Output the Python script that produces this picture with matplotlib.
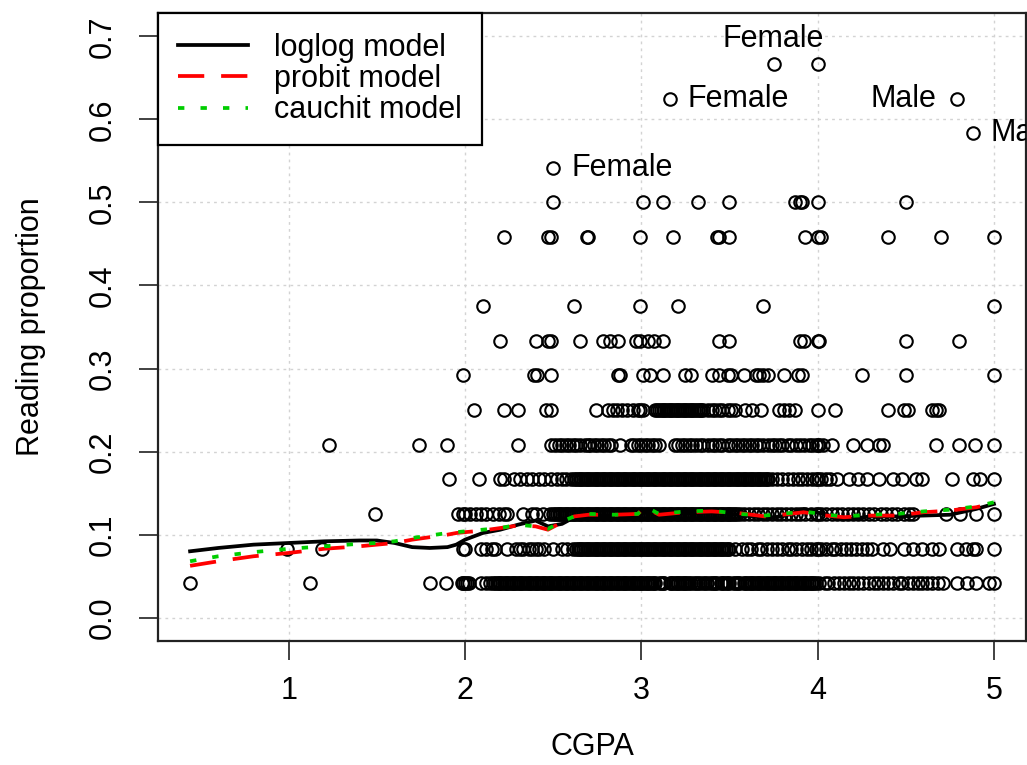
import numpy as np
import matplotlib.pyplot as plt

plt.rcParams['font.family'] = ['Liberation Sans', 'DejaVu Sans']

# reading proportion levels (k/24) and CGPA values (x100) of the students at each level
prop_levels = [0.0417, 0.0833, 0.1250, 0.1667, 0.2083, 0.2500, 0.2917, 0.3333,
               0.3750, 0.4583, 0.5000, 0.5417, 0.5833, 0.6250, 0.6667]

cgpa_01 = [44, 112, 180, 189, 198, 199, 200, 201, 202, 209, 212, 214, 216, 217, 218, 219,
           220, 221, 222, 223, 224, 225, 226, 227, 228, 229, 230, 231, 232, 233, 234, 235,
           236, 237, 238, 239, 240, 241, 242, 243, 244, 245, 246, 247, 248, 249, 250, 251,
           252, 253, 254, 255, 256, 257, 258, 259, 260, 261, 262, 263, 264, 265, 266, 267,
           268, 269, 270, 271, 272, 273, 274, 275, 276, 277, 278, 279, 280, 281, 282, 283,
           284, 285, 286, 287, 288, 289, 290, 291, 292, 293, 294, 295, 296, 297, 298, 299,
           300, 301, 302, 303, 304, 305, 306, 307, 308, 310, 311, 312, 313, 316, 317, 318,
           319, 320, 321, 322, 323, 324, 325, 326, 327, 328, 330, 331, 332, 333, 335, 336,
           337, 339, 340, 341, 342, 343, 345, 346, 347, 348, 349, 350, 352, 353, 354, 355,
           356, 358, 359, 360, 361, 362, 363, 364, 365, 366, 367, 368, 369, 370, 371, 372,
           373, 374, 375, 376, 377, 378, 379, 380, 381, 382, 383, 384, 385, 386, 387, 388,
           389, 390, 391, 392, 393, 394, 395, 396, 397, 398, 399, 401, 404, 406, 409, 412,
           415, 418, 420, 423, 426, 429, 432, 434, 437, 440, 443, 446, 448, 451, 454, 457,
           459, 462, 465, 468, 471, 479, 485, 490, 497, 500]
cgpa_02 = [99, 119, 199, 200, 209, 212, 215, 217, 224, 229, 231, 233, 236, 238, 240, 242,
           245, 250, 255, 258, 261, 263, 264, 265, 266, 267, 268, 269, 270, 271, 272, 273,
           274, 275, 276, 277, 278, 279, 280, 281, 282, 283, 284, 285, 286, 287, 288, 289,
           290, 291, 292, 293, 294, 295, 296, 297, 298, 299, 300, 301, 302, 303, 304, 305,
           306, 307, 308, 309, 310, 311, 312, 313, 314, 315, 316, 317, 318, 319, 320, 321,
           322, 323, 324, 325, 326, 327, 328, 329, 330, 331, 332, 333, 334, 335, 336, 337,
           338, 339, 340, 341, 342, 343, 344, 345, 346, 347, 348, 349, 350, 353, 357, 360,
           362, 366, 368, 371, 374, 377, 380, 383, 385, 388, 391, 394, 396, 399, 400, 402,
           405, 408, 410, 413, 416, 419, 422, 425, 428, 431, 437, 441, 449, 454, 459, 465,
           469, 479, 484, 488, 490, 500]
cgpa_03 = [149, 196, 199, 200, 203, 206, 209, 212, 216, 219, 222, 224, 233, 238, 240, 244,
           248, 250, 251, 252, 253, 254, 255, 256, 257, 258, 259, 260, 261, 262, 263, 264,
           265, 266, 267, 268, 269, 270, 271, 272, 273, 274, 275, 276, 277, 278, 279, 280,
           281, 282, 283, 284, 285, 286, 287, 288, 289, 290, 291, 292, 293, 294, 295, 296,
           297, 298, 299, 300, 301, 302, 303, 304, 305, 306, 307, 308, 309, 310, 311, 312,
           313, 314, 315, 316, 317, 318, 319, 320, 321, 322, 323, 324, 325, 326, 327, 328,
           329, 330, 331, 332, 333, 334, 335, 336, 337, 338, 339, 340, 341, 342, 343, 344,
           345, 346, 347, 348, 349, 350, 351, 352, 353, 354, 356, 358, 361, 364, 366, 369,
           371, 374, 377, 379, 382, 385, 388, 390, 393, 396, 399, 400, 402, 405, 408, 411,
           414, 417, 420, 423, 426, 429, 432, 436, 439, 442, 445, 449, 452, 454, 473, 481,
           490, 500]
cgpa_04 = [191, 208, 220, 222, 228, 231, 235, 238, 242, 245, 249, 252, 255, 257, 260, 262,
           263, 264, 265, 266, 267, 268, 269, 270, 271, 272, 273, 274, 275, 276, 277, 278,
           279, 280, 281, 282, 283, 284, 285, 286, 287, 288, 289, 290, 291, 292, 293, 294,
           295, 296, 297, 298, 299, 300, 301, 302, 303, 304, 305, 306, 307, 308, 309, 310,
           311, 312, 313, 314, 315, 316, 317, 318, 319, 320, 321, 322, 323, 324, 325, 326,
           327, 328, 329, 330, 331, 332, 333, 334, 335, 336, 337, 338, 339, 340, 341, 342,
           343, 344, 345, 346, 347, 348, 349, 350, 351, 352, 353, 354, 355, 356, 357, 358,
           359, 360, 361, 362, 363, 364, 365, 366, 367, 368, 369, 370, 371, 372, 374, 377,
           380, 383, 386, 389, 391, 394, 397, 399, 400, 402, 405, 407, 411, 418, 423, 428,
           435, 443, 448, 456, 459, 476, 488, 492, 500]
cgpa_05 = [123, 174, 190, 230, 249, 251, 253, 255, 257, 259, 261, 263, 265, 268, 270, 271,
           273, 275, 277, 279, 281, 283, 288, 294, 296, 298, 300, 302, 304, 306, 308, 310,
           319, 321, 323, 325, 327, 329, 331, 333, 335, 338, 340, 342, 344, 346, 349, 351,
           353, 355, 357, 359, 361, 363, 365, 367, 369, 372, 374, 376, 378, 380, 383, 385,
           388, 390, 392, 395, 397, 399, 400, 401, 403, 408, 420, 428, 435, 437, 467, 480,
           489, 500]
cgpa_06 = [205, 222, 230, 246, 249, 274, 281, 284, 286, 289, 292, 295, 298, 299, 301, 308,
           309, 310, 311, 312, 313, 314, 315, 316, 317, 318, 319, 320, 321, 322, 323, 324,
           325, 326, 327, 328, 329, 330, 331, 332, 333, 334, 335, 338, 340, 342, 344, 346,
           349, 351, 353, 359, 363, 368, 378, 381, 384, 387, 400, 410, 440, 449, 451, 465,
           467, 469]
cgpa_07 = [199, 239, 241, 249, 287, 288, 301, 305, 312, 325, 328, 340, 344, 349, 351, 358,
           365, 367, 369, 372, 381, 389, 391, 425, 450, 500]
cgpa_08 = [220, 240, 247, 249, 265, 278, 282, 287, 297, 299, 304, 307, 312, 344, 350, 390,
           392, 400, 401, 450, 480]
cgpa_09 = [210, 262, 299, 321, 369, 500]
cgpa_11 = [222, 247, 249, 269, 270, 299, 318, 343, 344, 350, 393, 400, 402, 440, 470, 500]
cgpa_12 = [250, 301, 312, 332, 350, 387, 390, 391, 400, 450]
cgpa_13 = [250]
cgpa_14 = [488]
cgpa_15 = [316, 479]
cgpa_16 = [375, 400]

cgpa_rows = [cgpa_01, cgpa_02, cgpa_03, cgpa_04, cgpa_05, cgpa_06, cgpa_07, cgpa_08,
             cgpa_09, cgpa_11, cgpa_12, cgpa_13, cgpa_14, cgpa_15, cgpa_16]

# fitted proportions of the three link models
cgpa_fit = [0.44, 0.60, 0.80, 1.00, 1.20, 1.40, 1.50, 1.60, 1.70, 1.80, 1.90, 1.95, 2.00,
            2.10, 2.20, 2.30, 2.40, 2.47, 2.55, 2.62, 2.70, 2.85, 2.98, 3.02, 3.10, 3.25,
            3.40, 3.55, 3.70, 3.80, 3.92, 4.05, 4.15, 4.30, 4.45, 4.60, 4.75, 4.90, 5.00]
fit_loglog = [0.080, 0.084, 0.088, 0.090, 0.092, 0.093, 0.093, 0.090, 0.085, 0.084, 0.085,
              0.088, 0.094, 0.102, 0.106, 0.112, 0.117, 0.110, 0.113, 0.121, 0.123, 0.123,
              0.124, 0.127, 0.123, 0.126, 0.127, 0.124, 0.120, 0.122, 0.131, 0.124, 0.118,
              0.122, 0.122, 0.123, 0.124, 0.131, 0.137]
fit_probit = [0.0625, 0.068, 0.074, 0.078, 0.083, 0.086, 0.088, 0.090, 0.094, 0.097, 0.100,
              0.102, 0.103, 0.105, 0.108, 0.111, 0.110, 0.106, 0.115, 0.122, 0.124, 0.124,
              0.125, 0.133, 0.124, 0.127, 0.128, 0.126, 0.122, 0.124, 0.127, 0.123, 0.121,
              0.123, 0.123, 0.127, 0.129, 0.133, 0.138]
fit_cauchit = [0.068, 0.074, 0.079, 0.083, 0.086, 0.089, 0.090, 0.092, 0.096, 0.099, 0.102,
               0.103, 0.104, 0.106, 0.108, 0.112, 0.110, 0.107, 0.116, 0.122, 0.125, 0.124,
               0.125, 0.134, 0.125, 0.128, 0.129, 0.125, 0.123, 0.125, 0.128, 0.124, 0.122,
               0.124, 0.125, 0.128, 0.130, 0.134, 0.139]

# outlying students labelled by gender
lab_x = [3.75, 3.16, 4.79, 4.88, 2.50]
lab_y = [0.6667, 0.6250, 0.6250, 0.5833, 0.5417]
lab_text = ['Female', 'Female', 'Male', 'Male', 'Female']
lab_side = ['top', 'right', 'left', 'right', 'right']

fs = 22
fig = plt.figure(figsize=(10.27, 7.65), dpi=100)
ax = fig.add_axes([158 / 1027, 124 / 765, 868 / 1027, 628 / 765])

for p, row in zip(prop_levels, cgpa_rows):
    xs = np.array(row) / 100
    ax.plot(xs, np.full(len(xs), p), 'o', ls='none', mfc='none', mec='black',
            ms=9, mew=1.5, antialiased=False, zorder=3)

ax.plot(cgpa_fit, fit_loglog, color='black', lw=2.7, label='loglog model', zorder=4)
ax.plot(cgpa_fit, fit_probit, color='red', lw=2.7, dashes=(7, 4.5), label='probit model', zorder=5)
ax.plot(cgpa_fit, fit_cauchit, color='#00cd00', lw=2.7, dashes=(1.7, 4.3), label='cauchit model', zorder=6)

for x, y, t, side in zip(lab_x, lab_y, lab_text, lab_side):
    if side == 'top':
        off, ha, va = (0, 18), 'center', 'center'
    elif side == 'right':
        off, ha, va = (13, 0), 'left', 'center'
    else:
        off, ha, va = (-15, 0), 'right', 'center'
    ax.annotate(t, (x, y), xytext=off, textcoords='offset points', ha=ha, va=va,
                fontsize=fs, annotation_clip=False, clip_on=True, zorder=7)

ax.set_xlim(0.258, 5.182)
ax.set_ylim(-0.028, 0.728)
ax.set_xticks([1, 2, 3, 4, 5])
ax.set_yticks([0.0, 0.1, 0.2, 0.3, 0.4, 0.5, 0.6, 0.7])
ax.set_yticklabels(['0.0', '0.1', '0.2', '0.3', '0.4', '0.5', '0.6', '0.7'],
                   rotation=90, va='center')
ax.tick_params(length=14, width=1.3, labelsize=fs, color='#333333')
ax.tick_params(axis='x', pad=11)
ax.tick_params(axis='y', pad=15)
ax.grid(True, color='#d3d3d3', lw=1.0, dashes=(2, 3))
ax.set_axisbelow(True)
for s in ax.spines.values():
    s.set_linewidth(1.6)
    s.set_color('#222222')

ax.set_xlabel('CGPA', fontsize=fs, labelpad=19)
ax.set_ylabel('Reading proportion', fontsize=fs, labelpad=30)

leg = ax.legend(loc='upper left', bbox_to_anchor=(0, 1), borderaxespad=0, fontsize=fs,
                fancybox=False, edgecolor='black', framealpha=1, handlelength=2.3,
                handletextpad=0.85, labelspacing=0.04, borderpad=0.65)
leg.get_frame().set_linewidth(1.6)
leg.set_zorder(10)

fig.savefig('out.png', dpi=100)
